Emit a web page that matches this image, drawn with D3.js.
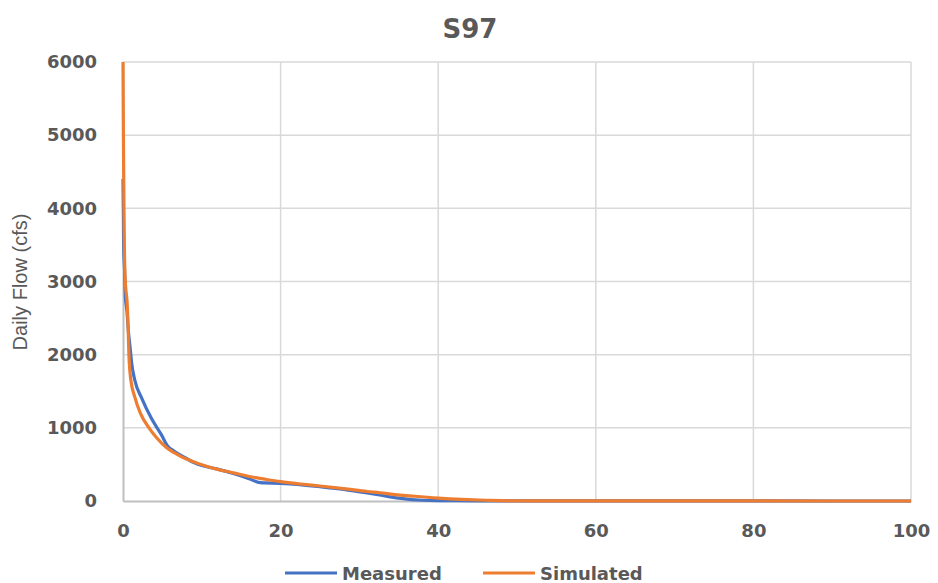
<!DOCTYPE html>
<html>
<head>
<meta charset="utf-8">
<script src="https://cdn.jsdelivr.net/npm/d3@7"></script>
<style>
  body { margin: 0; background: #ffffff; }
  svg { display: block; }
</style>
</head>
<body>
<div id="chart"></div>
<script>
// exceedance percent / daily flow
const simPct = [0, 0.05, 0.1, 0.15, 0.25, 0.4, 0.5, 0.67, 0.75, 1.0, 1.5, 2.2, 3.3, 4.3, 5.5, 6.5, 7.5, 9, 10, 12, 14, 16, 18, 20, 22.5, 25, 28, 31, 32.6, 34, 37, 40, 43, 46, 48, 50, 60, 80, 100];
const simFlow = [6000, 5000, 4300, 3700, 3100, 2850, 2750, 2300, 2000, 1650, 1420, 1200, 1000, 860, 730, 660, 600, 535, 495, 432, 385, 335, 298, 264, 232, 205, 170, 130, 113, 95, 65, 40, 22, 10, 4, 2, 1, 0.5, 0];

const measPct = [0, 0.05, 0.08, 0.1, 0.2, 0.3, 0.5, 0.7, 0.9, 1.1, 1.5, 2.4, 3.6, 4.9, 5.6, 6.5, 8, 9, 10, 12, 14, 16, 17.4, 18, 20, 22, 25, 28, 31, 32.6, 35, 38, 40, 45, 48, 60, 80, 100];
const measFlow = [4400, 3900, 3500, 3400, 3150, 2800, 2600, 2300, 2100, 1885, 1650, 1400, 1130, 900, 760, 680, 585, 525, 485, 435, 375, 305, 250, 248, 240, 228, 195, 158, 110, 82, 40, 10, 5, 3, 2, 1, 0.5, 0];

const xTicks = [0, 20, 40, 60, 80, 100];
const yTicks = [0, 1000, 2000, 3000, 4000, 5000, 6000];
const seriesNames = ["Measured", "Simulated"];
const seriesColors = ["#4472C4", "#ED7D31"];

const width = 938, height = 583;
const plotLeft = 123, plotRight = 911, plotTop = 62, plotBottom = 501;
const textColor = "#595959";
const fontBold = "'DejaVu Sans', sans-serif";

const svg = d3.select("#chart")
    .append("svg")
    .attr("width", width)
    .attr("height", height);

const x = d3.scaleLinear().domain([0, 100]).range([plotLeft, plotRight]);
const y = d3.scaleLinear().domain([0, 6000]).range([plotBottom, plotTop]);

// gridlines
svg.append("g")
    .selectAll("line")
    .data(yTicks.filter(d => d > 0))
    .join("line")
    .attr("x1", plotLeft)
    .attr("x2", plotRight)
    .attr("y1", d => y(d))
    .attr("y2", d => y(d))
    .attr("stroke", "#d9d9d9")
    .attr("stroke-width", 1.5);

svg.append("g")
    .selectAll("line")
    .data(xTicks.filter(d => d > 0))
    .join("line")
    .attr("x1", d => x(d))
    .attr("x2", d => x(d))
    .attr("y1", plotTop)
    .attr("y2", plotBottom)
    .attr("stroke", "#d9d9d9")
    .attr("stroke-width", 1.5);

// axes
const xAxis = svg.append("g")
    .attr("transform", "translate(0," + plotBottom + ")")
    .call(d3.axisBottom(x).tickValues(xTicks).tickSize(0).tickPadding(23));
xAxis.select(".domain").attr("stroke", "#bfbfbf").attr("stroke-width", 2);
xAxis.selectAll("text")
    .style("font-family", fontBold)
    .style("font-size", "18px")
    .style("font-weight", "bold")
    .attr("fill", textColor);

const yAxis = svg.append("g")
    .attr("transform", "translate(" + plotLeft + ",0)")
    .call(d3.axisLeft(y).tickValues(yTicks).tickSize(0).tickPadding(26).tickFormat(d3.format("d")));
yAxis.select(".domain").attr("stroke", "#bfbfbf").attr("stroke-width", 2);
yAxis.selectAll("text")
    .style("font-family", fontBold)
    .style("font-size", "18px")
    .style("font-weight", "bold")
    .attr("fill", textColor);

// curves
const line = d3.line()
    .x(d => x(d[0]))
    .y(d => y(d[1]))
    .curve(d3.curveMonotoneX);
const measData = d3.zip(measPct, measFlow);
const simData = d3.zip(simPct, simFlow);

[measData, simData].forEach((data, i) => {
    svg.append("path")
        .datum(data)
        .attr("d", line)
        .attr("fill", "none")
        .attr("stroke", seriesColors[i])
        .attr("stroke-width", 3.2)
        .attr("stroke-linejoin", "round");
});

// title
svg.append("text")
    .text("S97")
    .attr("x", 470)
    .attr("y", 38)
    .attr("text-anchor", "middle")
    .style("font-family", fontBold)
    .style("font-size", "26px")
    .style("font-weight", "bold")
    .attr("fill", textColor);

// y axis title
svg.append("text")
    .text("Daily Flow (cfs)")
    .attr("transform", "translate(27,282) rotate(-90)")
    .attr("text-anchor", "middle")
    .attr("textLength", 137)
    .attr("lengthAdjust", "spacingAndGlyphs")
    .style("font-family", "'Liberation Sans Narrow', 'Liberation Sans', sans-serif")
    .style("font-size", "20px")
    .attr("fill", textColor);

// legend
const legendX = [285, 483];
const legend = svg.append("g");
seriesNames.forEach((name, i) => {
    legend.append("line")
        .attr("x1", legendX[i])
        .attr("x2", legendX[i] + 52)
        .attr("y1", 573)
        .attr("y2", 573)
        .attr("stroke", seriesColors[i])
        .attr("stroke-width", 3);
    legend.append("text")
        .text(name)
        .attr("x", legendX[i] + 57)
        .attr("y", 580)
        .style("font-family", fontBold)
        .style("font-size", "18px")
        .style("font-weight", "bold")
        .attr("fill", textColor);
});
</script>
</body>
</html>
